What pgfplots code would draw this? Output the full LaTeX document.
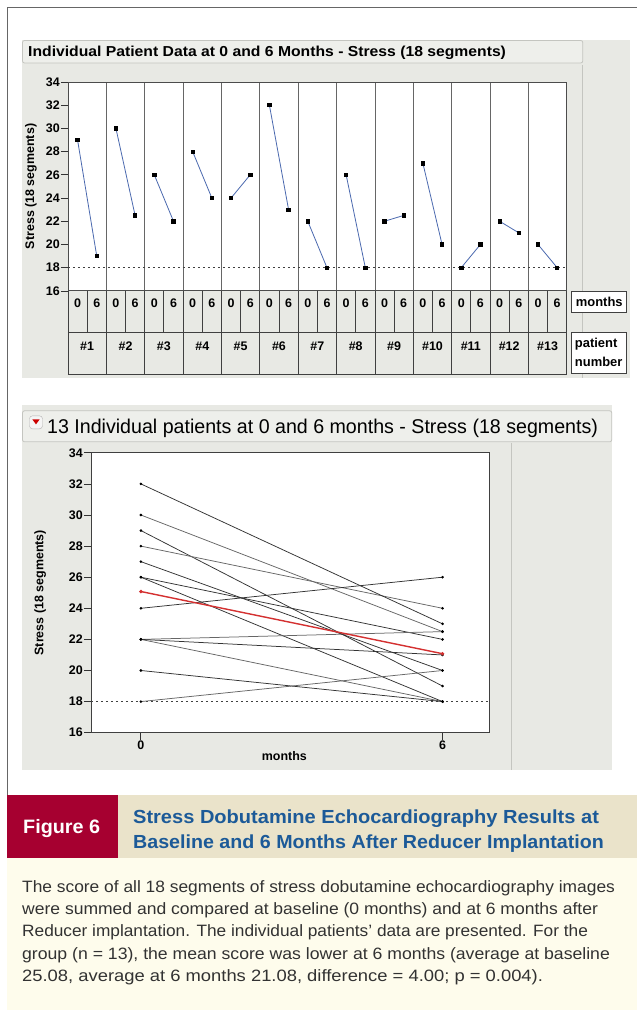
\documentclass[border=0pt]{standalone}
\usepackage{pgfplots}
\pgfplotsset{compat=1.18}
\usepackage{fontspec}
\setmainfont{Liberation Sans}
\usepackage{graphicx}
\definecolor{panelgray}{RGB}{232,233,228}
\definecolor{titlegray}{RGB}{238,239,235}
\definecolor{bordergray}{RGB}{196,197,192}
\definecolor{pblue}{RGB}{75,105,175}
\definecolor{meanred}{RGB}{212,48,48}
\definecolor{figred}{RGB}{166,0,48}
\definecolor{capbeige}{RGB}{234,227,202}
\definecolor{capyellow}{RGB}{254,252,236}
\definecolor{capblue}{RGB}{28,90,152}
\definecolor{captext}{RGB}{50,50,50}
\newcommand\fitw[2]{\resizebox{#1}{\height}{#2}}
\newcommand\tfont{\bfseries\fontsize{12.5}{14}\selectfont}
\pgfplotsset{
  pline/.style={pblue, line width=0.8bp, mark=square*, mark size=1.7bp, mark options={black, solid}},
  bline/.style={black!80, line width=0.75bp, mark=*, mark size=0.9bp, mark options={black}},
  gline/.style={black!60, line width=0.75bp, mark=*, mark size=0.9bp, mark options={black}},
}
\begin{document}
\begin{tikzpicture}
\begin{scope}[x=1bp,y=-1bp]
\useasboundingbox (0,0) rectangle (637,1010);
\fill[white] (0,0) rectangle (637,1010);
% top panel background
\fill[panelgray] (22,40) rectangle (630,378);
\draw[bordergray, fill=titlegray, rounded corners=2bp, line width=0.8bp] (22.5,40.5) rectangle (583,63);
\draw[bordergray, line width=0.8bp] (583,65) -- (583,378);
\node[anchor=base west, inner sep=0] at (28,57) {\fitw{478bp}{\bfseries\fontsize{14.5}{16}\selectfont Individual Patient Data at 0 and 6 Months - Stress (18 segments)}};
% bottom panel background
\fill[panelgray] (22,405) rectangle (612,770);
\draw[bordergray, fill=titlegray, rounded corners=2bp, line width=0.8bp] (22.5,411) rectangle (612,442);
\draw[bordergray, line width=0.8bp] (512,443) -- (512,770);
\draw[gray!60, fill=white!92!gray, rounded corners=3bp] (29.5,416) rectangle (42.5,429);
\fill[red!80!black] (32.3,419.5) -- (39.7,419.5) -- (36,424.5) -- cycle;
\node[anchor=base west, inner sep=0] at (47,434) {\fitw{551bp}{\fontsize{20}{22}\selectfont 13 Individual patients at 0 and 6 months - Stress (18 segments)}};
\end{scope}

% ---------------- top axis ----------------
\begin{axis}[
  at={(68bp,-82bp)}, anchor=north west, scale only axis,
  width=499bp, height=209bp,
  xmin=0, xmax=13, ymin=16, ymax=34,
  xtick={1,...,12}, xticklabels={}, xmajorgrids,
  major x grid style={draw=black!60, line width=0.7bp},
  xtick style={draw=none},
  ytick={16,18,...,34}, ytick pos=left, tick align=outside,
  major tick length=7bp,
  ytick style={black!80, line width=0.7bp},
  axis line style={black!70, line width=0.8bp},
  axis background/.style={fill=white},
  /pgf/number format/assume math mode=true,
  yticklabel style={font=\tfont, inner sep=1bp},
  ylabel={Stress (18 segments)},
  ylabel style={at={(axis description cs:-0.062,0.5)}, anchor=south, font=\bfseries\fontsize{12.5}{14}\selectfont, inner sep=0},
  clip=false,
]
\addplot[black!75, dash pattern=on 2.5bp off 2.5bp, line width=0.8bp] coordinates {(0,18) (13,18)};
\addplot[pline] coordinates {(0.25,29) (0.75,19)};
\addplot[pline] coordinates {(1.25,30) (1.75,22.5)};
\addplot[pline] coordinates {(2.25,26) (2.75,22)};
\addplot[pline] coordinates {(3.25,28) (3.75,24)};
\addplot[pline] coordinates {(4.25,24) (4.75,26)};
\addplot[pline] coordinates {(5.25,32) (5.75,23)};
\addplot[pline] coordinates {(6.25,22) (6.75,18)};
\addplot[pline] coordinates {(7.25,26) (7.75,18)};
\addplot[pline] coordinates {(8.25,22) (8.75,22.5)};
\addplot[pline] coordinates {(9.25,27) (9.75,20)};
\addplot[pline] coordinates {(10.25,18) (10.75,20)};
\addplot[pline] coordinates {(11.25,22) (11.75,21)};
\addplot[pline] coordinates {(12.25,20) (12.75,18)};
\end{axis}

% ---------------- bottom axis ----------------
\begin{axis}[
  at={(91bp,-453bp)}, anchor=north west, scale only axis,
  width=399bp, height=280bp,
  xmin=-0.993, xmax=6.94, ymin=16, ymax=34,
  xtick={0,6}, ytick={16,18,...,34},
  xtick pos=bottom, ytick pos=left, tick align=outside,
  major tick length=7bp,
  tick style={black!80, line width=0.8bp},
  axis line style={black!75, line width=0.9bp},
  axis background/.style={fill=white},
  /pgf/number format/assume math mode=true,
  ticklabel style={font=\tfont, inner sep=1bp},
  xlabel={months},
  xlabel style={at={(axis description cs:0.485,0)}, anchor=north, yshift=-19bp, font=\bfseries\fontsize{12.5}{14}\selectfont, inner sep=0},
  ylabel={Stress (18 segments)},
  ylabel style={at={(axis description cs:-0.112,0.5)}, anchor=south, font=\bfseries\fontsize{12.5}{14}\selectfont, inner sep=0},
]
\addplot[black!75, dash pattern=on 2.5bp off 2.5bp, line width=0.9bp] coordinates {(-0.993,18) (6.94,18)};
\addplot[bline] coordinates {(0,29) (6,19)};
\addplot[gline] coordinates {(0,30) (6,22.5)};
\addplot[bline] coordinates {(0,26) (6,22)};
\addplot[gline] coordinates {(0,28) (6,24)};
\addplot[bline] coordinates {(0,24) (6,26)};
\addplot[bline] coordinates {(0,32) (6,23)};
\addplot[gline] coordinates {(0,22) (6,18)};
\addplot[bline] coordinates {(0,26) (6,18)};
\addplot[gline] coordinates {(0,22) (6,22.5)};
\addplot[bline] coordinates {(0,27) (6,20)};
\addplot[gline] coordinates {(0,18) (6,20)};
\addplot[bline] coordinates {(0,22) (6,21)};
\addplot[bline] coordinates {(0,20) (6,18)};
\addplot[meanred, line width=1.4bp, mark=*, mark size=0.9bp, mark options={meanred}] coordinates {(0,25.08) (6,21.08)};
\end{axis}

\begin{scope}[x=1bp,y=-1bp]
% table under top plot
\begin{scope}[black!75, line width=0.8bp]
\foreach \i in {0,...,12} {
  \pgfmathsetmacro\xl{68+38.385*\i}
  \pgfmathtruncatemacro\n{\i+1}
  \draw (\xl,291) -- (\xl,375);
  \draw (\xl+19.19,291) -- (\xl+19.19,333);
  \node[black, font=\tfont] at (\xl+9.6,303) {0};
  \node[black, font=\tfont] at (\xl+28.8,303) {6};
  \node[black, font=\tfont] at (\xl+19.19,346) {\#\n};
}
\draw (567,291) -- (567,375);
\draw (68,333) -- (567,333);
\draw (68,375) -- (567,375);
\draw[fill=white] (572,292) rectangle (627,313);
\draw[fill=white] (572,333) rectangle (627,374);
\end{scope}
\node[font=\bfseries\fontsize{13}{14}\selectfont] at (599.5,302.5) {months};
\node[anchor=base west, inner sep=0, font=\bfseries\fontsize{13}{14}\selectfont] at (575,348) {patient};
\node[anchor=base west, inner sep=0, font=\bfseries\fontsize{13}{14}\selectfont] at (575,367) {number};

% frame lines
\draw[black!60, line width=0.9bp] (7,1010) -- (7,7) -- (637,7);

% caption
\fill[capyellow] (7.5,858) rectangle (637,1010);
\fill[figred] (7.5,795) rectangle (118,858);
\fill[capbeige] (118,795) rectangle (637,858);
\node[anchor=base west, inner sep=0, white] at (23,834) {\fitw{77bp}{\bfseries\fontsize{19.5}{22}\selectfont Figure 6}};
\node[anchor=base west, inner sep=0, capblue] at (133,823.5) {\fitw{466bp}{\bfseries\fontsize{19}{22}\selectfont Stress Dobutamine Echocardiography Results at}};
\node[anchor=base west, inner sep=0, capblue] at (133,848.5) {\fitw{471bp}{\bfseries\fontsize{19}{22}\selectfont Baseline and 6 Months After Reducer Implantation}};
\begin{scope}[captext]
\node[anchor=base west, inner sep=0] at (22,893) {\fitw{593bp}{\fontsize{16.5}{20}\selectfont The score of all 18 segments of stress dobutamine echocardiography images}};
\node[anchor=base west, inner sep=0] at (22,915) {\fitw{576bp}{\fontsize{16.5}{20}\selectfont were summed and compared at baseline (0 months) and at 6 months after}};
\node[anchor=base west, inner sep=0] at (22,937) {\fitw{566bp}{\fontsize{16.5}{20}\selectfont Reducer implantation. The individual patients’ data are presented. For the}};
\node[anchor=base west, inner sep=0] at (22,959.5) {\fitw{588bp}{\fontsize{16.5}{20}\selectfont group (n = 13), the mean score was lower at 6 months (average at baseline}};
\node[anchor=base west, inner sep=0] at (22,982) {\fitw{521bp}{\fontsize{16.5}{20}\selectfont 25.08, average at 6 months 21.08, difference = 4.00; p = 0.004).}};
\end{scope}
\end{scope}
\end{tikzpicture}
\end{document}
